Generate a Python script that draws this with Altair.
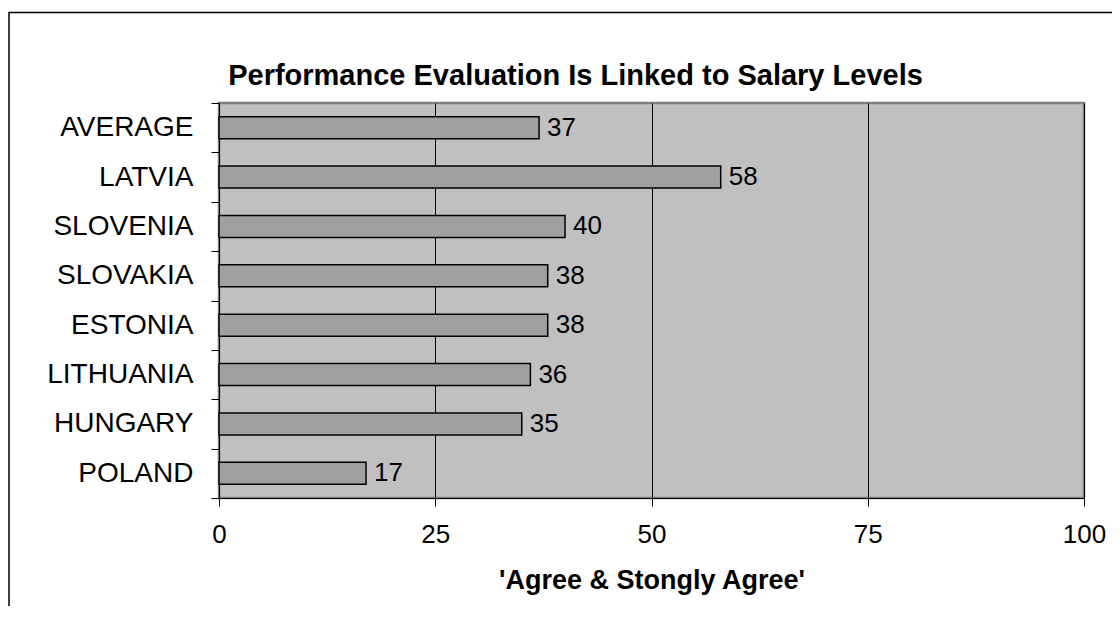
import altair as alt
import pandas as pd

countries = ["AVERAGE", "LATVIA", "SLOVENIA", "SLOVAKIA", "ESTONIA", "LITHUANIA", "HUNGARY ", "POLAND"]
values = [37, 58, 40, 38, 38, 36, 35, 17]
x_ticks = [0, 25, 50, 75, 100]

df = pd.DataFrame({"country": countries, "value": values})

FONT = "Liberation Sans"

y_enc = alt.Y(
    "country:N",
    sort=countries,
    scale=alt.Scale(paddingInner=0, paddingOuter=0),
    axis=alt.Axis(
        title=None,
        tickBand="extent",
        tickSize=8,
        tickColor="black",
        domainColor="black",
        labelFontSize=28,
        labelFont=FONT,
        labelColor="black",
        labelPadding=18,
        grid=False,
    ),
)
x_enc = alt.X(
    "value:Q",
    scale=alt.Scale(domain=[0, 100], nice=False),
    axis=alt.Axis(
        title="'Agree & Stongly Agree'",
        values=x_ticks,
        grid=True,
        gridColor="black",
        gridWidth=1,
        tickSize=8,
        tickColor="black",
        domainColor="black",
        labelFontSize=26,
        labelFont=FONT,
        labelColor="black",
        labelPadding=15,
        labelFlush=False,
        titleFont=FONT,
        titleFontSize=27,
        titleFontWeight="bold",
        titleColor="black",
        titlePadding=20,
    ),
)

base = alt.Chart(df)
bars = base.mark_bar(size=22, fill="#a0a0a0", stroke="black", strokeWidth=1.5).encode(x=x_enc, y=y_enc)
labels = base.mark_text(align="left", baseline="middle", dx=8, fontSize=26, font=FONT, color="black").encode(
    x="value:Q", y=alt.Y("country:N", sort=countries), text="value:Q"
)

frame = alt.Chart(pd.DataFrame({"a": [0]})).mark_rect(
    fill=None, stroke="black", strokeWidth=1.5
).encode(
    x=alt.value(-210), x2=alt.value(960), y=alt.value(-90.5), y2=alt.value(560)
)

chart = alt.layer(frame, bars, labels).properties(
    width=865,
    height=395,
    title=alt.TitleParams(
        "Performance Evaluation Is Linked to Salary Levels",
        font=FONT,
        fontSize=29,
        fontWeight="bold",
        color="black",
        offset=-79,
        dx=-76,
    ),
    autosize=alt.AutoSizeParams(type="none"),
    padding={"left": 211, "top": 95, "right": 28, "bottom": 108},
).configure(background="white").configure_view(
    fill="#c0c0c0", stroke="#808080", strokeWidth=2.5
)

chart.save("out.html", embed_options={"renderer": "svg", "actions": False})
